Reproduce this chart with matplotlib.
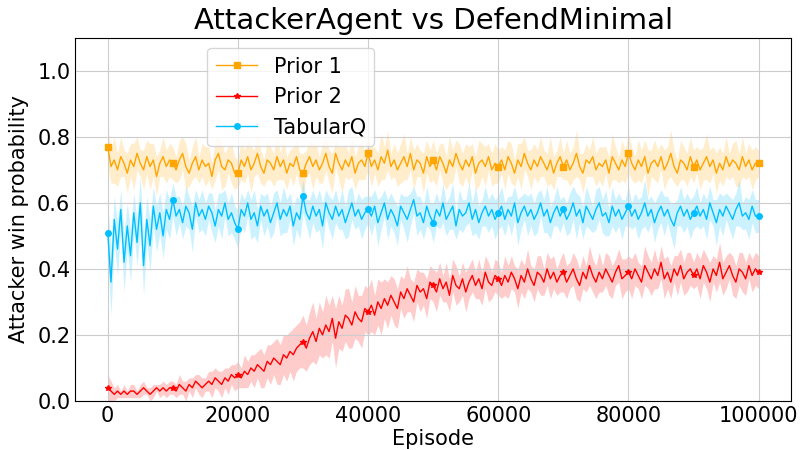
import numpy as np
import matplotlib.pyplot as plt
import matplotlib as mpl

mpl.rcParams['font.size'] = 15
mpl.rcParams['figure.dpi'] = 100
mpl.rcParams['xtick.major.size'] = 0
mpl.rcParams['ytick.major.size'] = 0

STEP = 500  # episodes between logged evaluations

# win probability (percent), mean and std over runs
prior1_mean = [
    77, 71, 73, 70, 74, 72, 69, 73, 71, 75, 72, 70, 74, 71, 73, 68, 72, 74, 71, 73,
    72, 70, 73, 75, 71, 69, 72, 74, 70, 73, 71, 72, 68, 73, 75, 71, 70, 73, 72, 69,
    69, 73, 71, 74, 70, 72, 75, 71, 69, 73, 72, 70, 74, 71, 73, 69, 72, 71, 74, 70,
    69, 72, 74, 71, 73, 70, 72, 75, 71, 69, 75, 72, 70, 73, 71, 74, 69, 72, 73, 71,
    75, 71, 73, 70, 74, 72, 76, 71, 73, 70, 72, 74, 71, 75, 70, 73, 72, 69, 74, 71,
    73, 70, 74, 72, 69, 73, 71, 75, 72, 70, 73, 71, 74, 69, 72, 73, 71, 74, 70, 72,
    71, 73, 70, 74, 72, 69, 73, 71, 75, 72, 70, 73, 71, 74, 72, 70, 73, 69, 72, 74,
    71, 73, 70, 72, 75, 71, 69, 73, 72, 74, 70, 72, 71, 73, 69, 74, 72, 70, 73, 71,
    75, 72, 70, 73, 71, 74, 69, 72, 73, 71, 74, 70, 72, 75, 71, 69, 73, 72, 70, 74,
    71, 73, 70, 72, 74, 71, 73, 69, 72, 70, 74, 71, 73, 72, 70, 74, 71, 73, 70, 72,
    72,
]
prior1_std = [
    6, 5, 7, 5, 6, 4, 6, 5, 7, 5, 4, 6, 5, 7, 5, 6, 4, 6, 5, 5,
    5, 4, 6, 5, 7, 4, 5, 6, 4, 5, 6, 5, 4, 6, 5, 7, 5, 4, 6, 5,
    4, 6, 5, 5, 7, 4, 6, 5, 4, 6, 5, 5, 7, 4, 6, 5, 4, 6, 5, 5,
    6, 4, 5, 7, 5, 4, 6, 5, 5, 6, 4, 5, 7, 5, 4, 6, 5, 5, 6, 4,
    5, 6, 4, 5, 7, 5, 6, 4, 5, 5, 6, 7, 4, 5, 6, 5, 4, 6, 5, 5,
    6, 5, 4, 6, 5, 7, 5, 4, 6, 5, 5, 6, 4, 5, 7, 5, 6, 4, 5, 6,
    5, 4, 6, 5, 6, 4, 5, 7, 5, 4, 6, 5, 5, 6, 4, 5, 7, 5, 4, 6,
    4, 6, 5, 5, 7, 4, 6, 5, 4, 6, 5, 5, 6, 4, 5, 7, 5, 4, 6, 5,
    6, 5, 4, 6, 5, 5, 7, 4, 6, 5, 4, 6, 5, 7, 5, 4, 6, 5, 5, 6,
    5, 4, 6, 5, 7, 5, 4, 6, 5, 5, 6, 4, 5, 7, 5, 6, 4, 5, 6, 5,
    4,
]

prior2_mean = [
    4, 3, 2, 3, 2, 3, 2, 3, 3, 2, 3, 4, 3, 2, 3, 4, 3, 4, 3, 4,
    4, 3, 5, 4, 3, 5, 4, 6, 5, 4, 5, 6, 5, 7, 6, 5, 7, 6, 8, 7,
    8, 7, 9, 8, 10, 9, 11, 10, 9, 12, 11, 13, 12, 11, 14, 13, 15, 14, 16, 17,
    18, 16, 19, 21, 18, 22, 20, 23, 21, 25, 19, 24, 22, 26, 25, 23, 27, 25, 24, 28,
    27, 29, 26, 30, 28, 31, 29, 32, 30, 28, 33, 31, 34, 32, 30, 35, 33, 34, 31, 36,
    35, 33, 37, 34, 36, 32, 38, 35, 34, 37, 33, 36, 38, 35, 37, 34, 39, 36, 35, 38,
    37, 35, 38, 36, 39, 37, 34, 38, 36, 40, 37, 35, 39, 38, 36, 40, 37, 39, 36, 38,
    39, 36, 38, 40, 37, 35, 39, 37, 41, 38, 36, 39, 37, 40, 38, 36, 39, 41, 37, 38,
    39, 37, 40, 38, 36, 41, 39, 37, 40, 38, 42, 37, 39, 36, 40, 38, 41, 37, 39, 40,
    38, 40, 37, 41, 39, 36, 40, 38, 42, 37, 39, 41, 38, 36, 40, 39, 37, 41, 38, 40,
    39,
]
prior2_std = [
    4, 3, 2, 2, 1, 2, 1, 2, 2, 1, 2, 2, 1, 2, 2, 1, 2, 2, 2, 2,
    2, 2, 3, 2, 3, 2, 3, 2, 3, 3, 2, 3, 4, 3, 3, 4, 3, 4, 3, 4,
    4, 3, 5, 4, 4, 5, 4, 6, 5, 5, 6, 5, 7, 6, 6, 7, 6, 8, 7, 7,
    8, 7, 8, 9, 7, 8, 7, 9, 8, 7, 9, 8, 7, 8, 9, 7, 8, 7, 8, 7,
    7, 8, 6, 7, 8, 6, 7, 6, 7, 6, 5, 6, 7, 5, 6, 5, 6, 5, 6, 5,
    5, 6, 5, 4, 6, 5, 5, 6, 4, 5, 6, 5, 5, 4, 6, 5, 5, 6, 4, 5,
    5, 4, 6, 5, 5, 4, 6, 5, 5, 6, 4, 5, 5, 6, 4, 5, 6, 5, 4, 5,
    6, 5, 4, 5, 6, 5, 5, 4, 6, 5, 5, 6, 4, 5, 6, 5, 4, 5, 6, 5,
    5, 6, 5, 4, 5, 6, 5, 5, 6, 4, 5, 6, 5, 5, 4, 6, 5, 5, 6, 5,
    4, 5, 6, 5, 5, 6, 4, 5, 6, 5, 5, 4, 6, 5, 5, 6, 5, 4, 5, 5,
    5,
]

tabq_mean = [
    51, 36, 55, 46, 58, 42, 53, 44, 57, 48, 60, 41, 55, 47, 59, 52, 57, 50, 58, 55,
    61, 56, 58, 54, 59, 57, 52, 60, 56, 58, 55, 59, 57, 53, 58, 56, 60, 55, 57, 54,
    52, 58, 56, 60, 55, 57, 53, 59, 56, 58, 54, 57, 60, 55, 58, 56, 59, 53, 57, 55,
    62, 57, 55, 59, 56, 58, 53, 60, 57, 55, 59, 56, 58, 54, 57, 60, 56, 58, 55, 57,
    58, 56, 59, 54, 57, 60, 55, 58, 56, 53, 59, 57, 55, 58, 61, 56, 57, 54, 59, 56,
    54, 58, 56, 60, 55, 57, 59, 53, 58, 56, 57, 60, 55, 58, 54, 57, 59, 56, 58, 55,
    57, 59, 55, 58, 56, 60, 54, 57, 59, 56, 58, 55, 57, 60, 56, 58, 54, 57, 59, 56,
    58, 55, 57, 60, 56, 58, 54, 59, 57, 55, 58, 60, 56, 57, 54, 59, 56, 58, 55, 57,
    59, 56, 58, 55, 57, 60, 56, 58, 54, 57, 59, 56, 58, 55, 53, 57, 59, 56, 58, 55,
    57, 59, 56, 58, 55, 60, 57, 54, 58, 56, 59, 57, 55, 58, 60, 56, 57, 55, 59, 56,
    56,
]
tabq_std = [
    9, 10, 7, 8, 6, 9, 7, 8, 6, 7, 8, 9, 7, 8, 6, 7, 6, 7, 6, 6,
    5, 6, 4, 5, 6, 5, 7, 4, 5, 6, 5, 4, 6, 5, 5, 7, 4, 5, 6, 5,
    6, 5, 5, 4, 6, 7, 5, 4, 6, 5, 5, 6, 4, 5, 7, 5, 4, 6, 5, 6,
    5, 4, 6, 5, 5, 6, 7, 4, 5, 6, 5, 4, 6, 5, 7, 5, 4, 5, 6, 5,
    4, 6, 5, 7, 5, 4, 6, 5, 5, 6, 4, 5, 7, 5, 4, 6, 5, 5, 6, 4,
    6, 5, 4, 6, 5, 5, 7, 4, 6, 5, 4, 6, 5, 7, 5, 4, 6, 5, 5, 6,
    5, 6, 5, 4, 6, 5, 7, 5, 4, 6, 5, 5, 6, 4, 5, 7, 5, 4, 6, 5,
    4, 5, 6, 5, 7, 4, 5, 6, 5, 4, 6, 5, 5, 7, 4, 6, 5, 5, 6, 4,
    6, 4, 5, 6, 5, 7, 5, 4, 6, 5, 5, 6, 4, 5, 7, 4, 6, 5, 5, 6,
    5, 6, 4, 5, 6, 5, 4, 7, 5, 6, 4, 5, 6, 5, 7, 4, 5, 6, 5, 5,
    5,
]

series = [
    ('Prior 1', prior1_mean, prior1_std, 'orange', 's'),
    ('Prior 2', prior2_mean, prior2_std, 'red', '*'),
    ('TabularQ', tabq_mean, tabq_std, 'deepskyblue', 'o'),
]

fig, ax = plt.subplots(figsize=(8, 4.5))
fig.subplots_adjust(left=0.094, right=0.989, top=0.916, bottom=0.109)

for label, mean, std, color, marker in series:
    mean = np.array(mean) / 100.0
    std = np.array(std) / 100.0
    episodes = np.arange(len(mean)) * STEP
    ax.plot(episodes, mean, color=color, lw=1, marker=marker, markersize=4,
            markevery=20, label=label)
    ax.fill_between(episodes, mean - std, mean + std, color=color, alpha=0.2, lw=0)

ax.set_ylim(0, 1.1)
ax.set_yticks([0.0, 0.2, 0.4, 0.6, 0.8, 1.0])
ax.tick_params(labelsize=15)
ax.set_xlabel('Episode', labelpad=2)
ax.set_ylabel('Attacker win probability', labelpad=6)
ax.set_title('AttackerAgent vs DefendMinimal', fontsize=21)
ax.grid(True, color='#cccccc')
ax.legend(loc='upper left', bbox_to_anchor=(0.17, 1.0), fontsize=15)

plt.savefig('out.png')
plt.close()
